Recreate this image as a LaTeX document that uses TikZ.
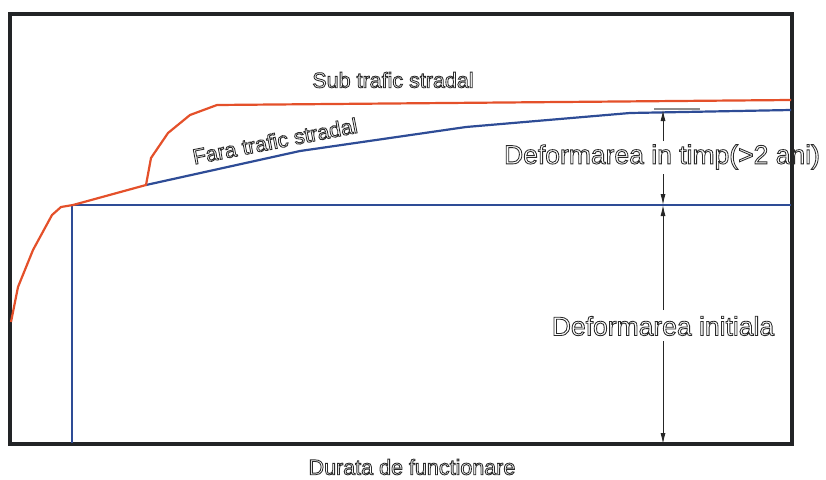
\documentclass[tikz,border=0pt]{standalone}
\usepackage{fontspec}
\setmainfont{Liberation Sans}
\usetikzlibrary{arrows.meta}
\definecolor{frame}{HTML}{222426}
\definecolor{orng}{HTML}{E4502A}
\definecolor{blu}{HTML}{2E4C96}
\definecolor{txtc}{HTML}{2A2A2A}
\tikzset{
  frm/.style={draw=frame,line width=3.2pt},
  subline/.style={draw=orng,line width=2.2pt,line join=round},
  faraline/.style={draw=blu,line width=2.2pt,line join=round},
  dimline/.style={draw=black!85,line width=0.9pt,-{Latex[length=11pt,width=5pt]}},
  lbl/.style={inner sep=0pt,text=txtc,font=\fontsize{#1}{#1}\selectfont},
}
\newcommand{\outl}[1]{\special{pdf:literal direct 1 Tr 0.85 w}#1\special{pdf:literal direct 0 Tr}}
\begin{document}
\begin{tikzpicture}[x=1pt,y=-1pt]
\useasboundingbox (0,0) rectangle (826,479);
% frame
\draw[frm] (10,14) rectangle (792,444);
% points
\coordinate (o0) at (11,322);
\coordinate (o1) at (18,287);
\coordinate (o2) at (33,250);
\coordinate (o3) at (52,215);
\coordinate (o4) at (61,207);
\coordinate (k0) at (73,205);
\coordinate (k1) at (146,185);
\coordinate (u1) at (151,158);
\coordinate (u2) at (168,133);
\coordinate (u3) at (190,115);
\coordinate (u4) at (217,105);
\coordinate (u5) at (791,100);
\coordinate (b1) at (300,151);
\coordinate (b2) at (466,127);
\coordinate (b3) at (630,113);
\coordinate (b4) at (791,110);
\coordinate (h1) at (791,205);
\coordinate (v0) at (72,443);
% blue lines
\draw[faraline] (k0) -- (h1);
\draw[faraline] (72,205) -- (v0);
\draw[faraline] (k1) -- (b1) -- (b2) -- (b3) -- (b4);
% orange curve
\draw[subline] (o0) -- (o1) -- (o2) -- (o3) -- (o4) -- (k0) -- (k1) -- (u1) -- (u2) -- (u3) -- (u4) -- (u5);
% extension tick
\draw[draw=black!45,line width=1.2pt] (654,109) -- (700,109);
% dimension labels
\node[lbl=26.5] (dt) at (662,157) {\outl{Deformarea in timp(>2 ani)}};
\node[lbl=26.5] (di) at (663,326) {\outl{Deformarea initiala}};
\coordinate (t1a) at (663,141);
\coordinate (t1b) at (663,110);
\coordinate (t2a) at (663,174);
\coordinate (t2b) at (663,205);
\coordinate (t3a) at (663,310);
\coordinate (t3b) at (663,205);
\coordinate (t4a) at (663,341);
\coordinate (t4b) at (663,444);
\draw[dimline] (t1a) -- (t1b);
\draw[dimline] (t2a) -- (t2b);
\draw[dimline] (t3a) -- (t3b);
\draw[dimline] (t4a) -- (t4b);
% other labels
\node[lbl=21.5] (sub) at (393,80) {\outl{Sub trafic stradal}};
\node[lbl=21.5,rotate=11] (far) at (275,141) {\outl{Fara trafic stradal}};
\node[lbl=21.5] (dur) at (412,467) {\outl{Durata de functionare}};
\end{tikzpicture}
\end{document}
